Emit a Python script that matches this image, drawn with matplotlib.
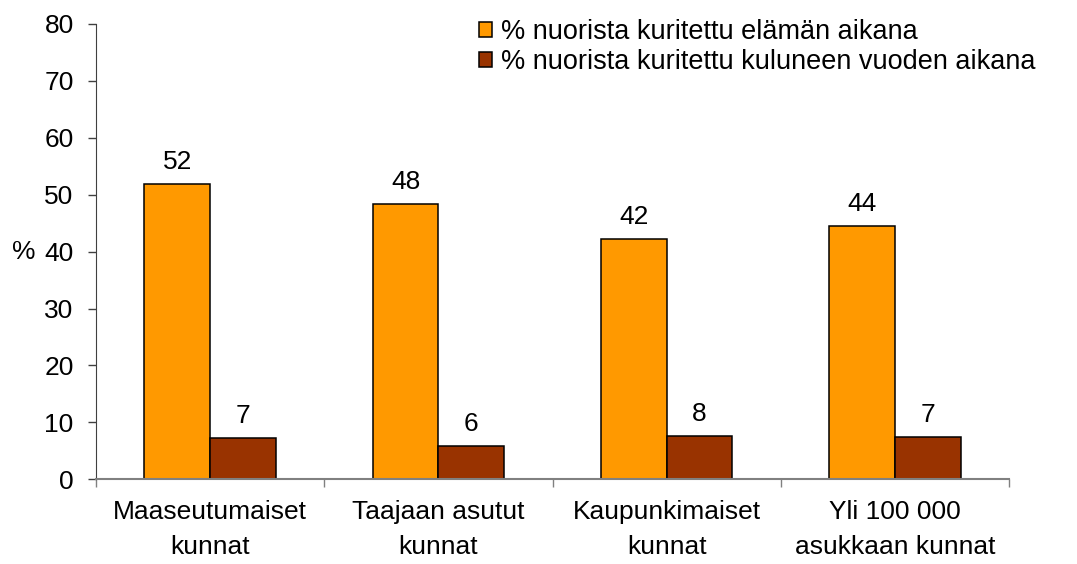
import numpy as np
from matplotlib import pyplot as plt

# Data
categories = ['Maaseutumaiset\nkunnat', 'Taajaan asutut\nkunnat',
              'Kaupunkimaiset\nkunnat', 'Yli 100 000\nasukkaan kunnat']
lifetime = [51.8, 48.3, 42.2, 44.4]
last_year = [7.3, 5.9, 7.6, 7.4]
series_names = ['% nuorista kuritettu elämän aikana',
                '% nuorista kuritettu kuluneen vuoden aikana']

plt.rcParams['font.family'] = ['Liberation Sans', 'DejaVu Sans']
fs = 19

fig = plt.figure(figsize=(10.77, 5.64), dpi=100)
ax = fig.add_axes([0.089, 0.150, 0.848, 0.808])

x = np.arange(len(categories))
w = 0.287
b1 = ax.bar(x - w / 2, lifetime, w, color='#FF9900', edgecolor='black',
            linewidth=1.1, label=series_names[0])
b2 = ax.bar(x + w / 2, last_year, w, color='#993300', edgecolor='black',
            linewidth=1.1, label=series_names[1])

for bars, vals in ((b1, lifetime), (b2, last_year)):
    for bar, v in zip(bars, vals):
        ax.annotate(f'{round(v):d}', (bar.get_x() + bar.get_width() / 2, v),
                    xytext=(0, 11), textcoords='offset points',
                    ha='center', va='baseline', fontsize=fs)

ax.set_xlim(-0.5, len(categories) - 0.5)
ax.set_ylim(0, 80)
ax.set_yticks(range(0, 81, 10))
ax.tick_params(axis='y', labelsize=fs, length=6, width=1, color='#404040', pad=10)

ax.set_xticks(x)
ax.set_xticklabels(categories, fontsize=fs, linespacing=1.57)
ax.set_xticks(np.arange(-0.5, len(categories)), minor=True)
ax.tick_params(axis='x', which='major', length=0, pad=15)
ax.tick_params(axis='x', which='minor', length=6, width=1, color='#808080')

for s in ('top', 'right'):
    ax.spines[s].set_visible(False)
ax.spines['left'].set_color('#404040')
ax.spines['bottom'].set_color('#808080')
ax.spines['bottom'].set_linewidth(1.5)

ax.set_ylabel('%', rotation=0, fontsize=fs, labelpad=15, va='center')

fig.legend(loc='upper left', bbox_to_anchor=(0.435, 0.985), frameon=False,
           fontsize=19.5, handlelength=0.48, handleheight=0.48,
           handletextpad=0.33, labelspacing=0.15, borderaxespad=0)

fig.savefig('out.png', dpi=100)
